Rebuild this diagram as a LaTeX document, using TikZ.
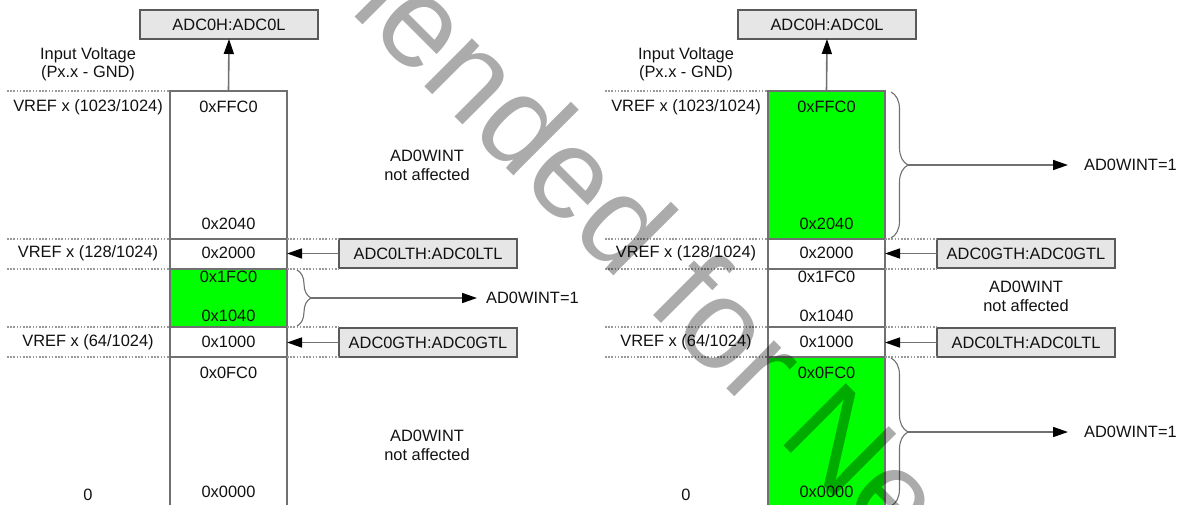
\documentclass[tikz,border=0pt]{standalone}
\usepackage{fontspec}
\setmainfont{Liberation Sans}
\usetikzlibrary{arrows.meta,decorations.pathreplacing,calc}
\definecolor{lc}{HTML}{707070}
\definecolor{bc}{HTML}{E6E6E6}
\definecolor{bd}{HTML}{5A5A5A}
\definecolor{gr}{HTML}{00FF00}
\definecolor{tx}{HTML}{111111}
\definecolor{dc}{HTML}{999999}
\begin{document}
\begin{tikzpicture}[x=1pt,y=-1pt,
 every node/.style={font=\fontsize{16.4}{19}\selectfont, text=tx},
 seg/.style={draw=lc, line width=1.8pt, anchor=north west, minimum width=117pt, inner sep=0pt, outer sep=0pt},
 regbox/.style={draw=bd, fill=bc, line width=1.3pt, anchor=north west, minimum width=178pt, minimum height=29pt, inner sep=0pt, outer sep=0pt},
 lbl/.style={inner sep=0pt},
 arr/.style={draw=lc, line width=1.6pt, -{Triangle[length=15pt,width=10pt,color=black]}},
 dots/.style={draw=dc, line width=1.3pt, dash pattern=on 1.6pt off 1.6pt},
 brc/.style={draw=lc, line width=1.1pt, decorate, decoration={brace, amplitude=14pt}},
]
\useasboundingbox (0,0) rectangle (1180,504);
\clip (0,0) rectangle (1180,504);

% ---------------- LEFT PANEL ----------------
\node[regbox] (Ladc) at (140,10) {ADC0H:ADC0L};
\node[seg, minimum height=148pt] (Ls1) at (170,91) {};
\node[seg, minimum height=30pt] (Ls2) at (170,239) {};
\node[seg, fill=gr, minimum height=58pt] (Ls3) at (170,269) {};
\node[seg, minimum height=30pt] (Ls4) at (170,327) {};
\node[seg, minimum height=160pt] (Ls5) at (170,357) {};

\node[lbl] (Lv1) at (88,55) {Input Voltage};
\node[lbl] (Lv2) at (88,73) {(Px.x - GND)};
\node[lbl] (Lr1) at (88,107) {VREF x (1023/1024)};
\node[lbl] (Lr2) at (88,253) {VREF x (128/1024)};
\node[lbl] (Lr3) at (88,342) {VREF x (64/1024)};
\node[lbl] (Lr4) at (88,495) {0};

\node[lbl] (Lh1) at (228.5,107) {0xFFC0};
\node[lbl] (Lh2) at (228.5,224) {0x2040};
\node[lbl] (Lh3) at (228.5,253) {0x2000};
\node[lbl] (Lh4) at (228.5,277) {0x1FC0};
\node[lbl] (Lh5) at (228.5,316) {0x1040};
\node[lbl] (Lh6) at (228.5,342) {0x1000};
\node[lbl] (Lh7) at (228.5,373) {0x0FC0};
\node[lbl] (Lh8) at (228.5,492) {0x0000};

\node[regbox] (Llt) at (339,239) {ADC0LTH:ADC0LTL};
\node[regbox] (Lgt) at (339,328) {ADC0GTH:ADC0GTL};

\node[lbl, align=center] (Lna1) at (427,165) {AD0WINT\\not affected};
\node[lbl, align=center] (Lna2) at (427,445) {AD0WINT\\not affected};
\node[lbl, anchor=west] (Lw) at (486,298) {AD0WINT=1};

\draw[dots] (7,91) -- (Ls1.north west);
\draw[dots] (7,239) -- (Ls2.north west);
\draw[dots] (7,269) -- (Ls3.north west);
\draw[dots] (7,327) -- (Ls4.north west);
\draw[dots] (7,357) -- (Ls5.north west);
\draw[dots] (Ls2.north east) -- (Llt.north west);
\draw[dots] (Ls3.north east) -- (Llt.south west |- Ls3.north east);
\draw[dots] (Ls4.north east) -- (Lgt.north west |- Ls4.north east);
\draw[dots] (Ls5.north east) -- (Lgt.south west |- Ls5.north east);

\draw[arr] (Ls1.north) -- (Ladc.south);
\draw[arr] (Llt.west) -- (Llt.west -| Ls2.east);
\draw[arr] (Lgt.west) -- (Lgt.west -| Ls4.east);

\coordinate (Lbt) at ($(Ls3.north east)+(10,1)$);
\coordinate (Lbb) at ($(Ls3.south east)+(10,-1)$);
\draw[brc] (Lbt) -- (Lbb);
\coordinate (Ltip) at ($(Lbt)!0.5!(Lbb)+(14,0)$);
\draw[arr, shorten >=9pt] (Ltip) -- (Lw.west);

% ---------------- RIGHT PANEL ----------------
\node[regbox] (Radc) at (738,10) {ADC0H:ADC0L};
\node[seg, fill=gr, minimum height=148pt] (Rs1) at (768,91) {};
\node[seg, minimum height=30pt] (Rs2) at (768,239) {};
\node[seg, minimum height=58pt] (Rs3) at (768,269) {};
\node[seg, minimum height=30pt] (Rs4) at (768,327) {};
\node[seg, fill=gr, minimum height=160pt] (Rs5) at (768,357) {};

\node[lbl] (Rv1) at (686,55) {Input Voltage};
\node[lbl] (Rv2) at (686,73) {(Px.x - GND)};
\node[lbl] (Rr1) at (686,107) {VREF x (1023/1024)};
\node[lbl] (Rr2) at (686,253) {VREF x (128/1024)};
\node[lbl] (Rr3) at (686,342) {VREF x (64/1024)};
\node[lbl] (Rr4) at (686,495) {0};

\node[lbl] (Rh1) at (826.5,107) {0xFFC0};
\node[lbl] (Rh2) at (826.5,224) {0x2040};
\node[lbl] (Rh3) at (826.5,253) {0x2000};
\node[lbl] (Rh4) at (826.5,277) {0x1FC0};
\node[lbl] (Rh5) at (826.5,316) {0x1040};
\node[lbl] (Rh6) at (826.5,342) {0x1000};
\node[lbl] (Rh7) at (826.5,373) {0x0FC0};
\node[lbl] (Rh8) at (826.5,492) {0x0000};

\node[regbox] (Rgt) at (937,239) {ADC0GTH:ADC0GTL};
\node[regbox] (Rlt) at (937,328) {ADC0LTH:ADC0LTL};

\node[lbl, align=center] (Rna) at (1026,296) {AD0WINT\\not affected};
\node[lbl, anchor=west] (Rw1) at (1084,165) {AD0WINT=1};
\node[lbl, anchor=west] (Rw2) at (1084,432) {AD0WINT=1};

\draw[dots] (605,91) -- (Rs1.north west);
\draw[dots] (605,239) -- (Rs2.north west);
\draw[dots] (605,269) -- (Rs3.north west);
\draw[dots] (605,327) -- (Rs4.north west);
\draw[dots] (605,357) -- (Rs5.north west);
\draw[dots] (Rs2.north east) -- (Rgt.north west);
\draw[dots] (Rs3.north east) -- (Rgt.south west |- Rs3.north east);
\draw[dots] (Rs4.north east) -- (Rlt.north west |- Rs4.north east);
\draw[dots] (Rs5.north east) -- (Rlt.south west |- Rs5.north east);

\draw[arr] (Rs1.north) -- (Radc.south);
\draw[arr] (Rgt.west) -- (Rgt.west -| Rs2.east);
\draw[arr] (Rlt.west) -- (Rlt.west -| Rs4.east);

\coordinate (Rbt) at ($(Rs1.north east)+(6,1)$);
\coordinate (Rbb) at ($(Rs2.north east)+(6,-1)$);
\draw[brc, decoration={brace, amplitude=17pt}] (Rbt) -- (Rbb);
\coordinate (Rtip) at ($(Rbt)!0.5!(Rbb)+(17,0)$);
\draw[arr, shorten >=16pt] (Rtip) -- (Rw1.west);

\coordinate (Rct) at ($(Rs5.north east)+(6,1)$);
\coordinate (Rcb) at ($(Rs5.north east)+(6,149)$);
\draw[brc, decoration={brace, amplitude=17pt}] (Rct) -- (Rcb);
\coordinate (Rtip2) at ($(Rct)!0.5!(Rcb)+(17,0)$);
\draw[arr, shorten >=16pt] (Rtip2) -- (Rw2.west);

% ---------------- WATERMARK ----------------
\node[rotate=-45, anchor=base, inner sep=0pt, text=black, text opacity=0.33,
      font=\fontsize{128}{130}\selectfont] (wm) at (575,237) {Not Recommended for New Designs};
\end{tikzpicture}
\end{document}
